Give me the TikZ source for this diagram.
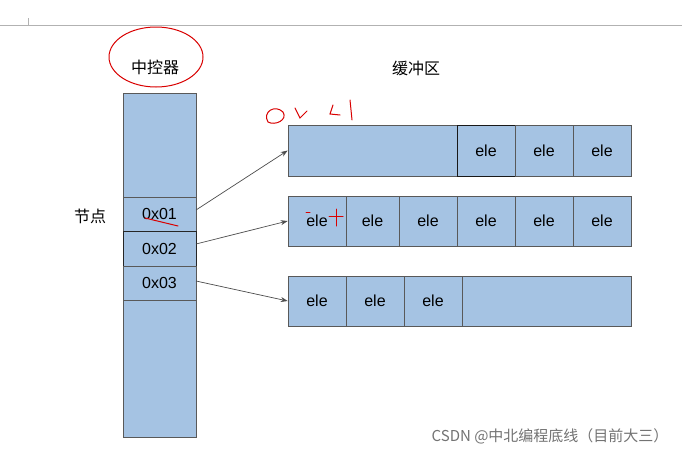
\documentclass[tikz,border=0pt]{standalone}
\usepackage{fontspec}
\usetikzlibrary{arrows.meta}
\setmainfont{Liberation Sans}
\newfontfamily\cjk{Noto Sans CJK SC}
\begin{document}
\begin{tikzpicture}[x=1pt,y=-1pt,
  cell/.style={draw=black!65,fill={rgb,255:red,165;green,195;blue,227},line width=0.6pt,inner sep=0pt,font=\fontsize{16}{18}\selectfont},
  arr/.style={-{Stealth[length=7pt,width=5pt]},draw=black!70,line width=0.7pt},
  red/.style={draw=red!85!black,line width=1pt,line cap=round}]
\useasboundingbox (0,0) rectangle (682,455);
\fill[white] (0,0) rectangle (682,455);
\draw[gray!60,line width=0.8pt] (0,25) -- (682,25);
\draw[gray!60] (28,18) -- (28,25);
% column
\node[cell,minimum width=73pt,minimum height=344pt] (col) at (159.5,265) {};
\node[cell,minimum width=73pt,minimum height=34pt] (n1) at (159.5,214) {0x01};
\node[cell,minimum width=73pt,minimum height=35pt,draw=black!85] (n2) at (159.5,248.5) {0x02};
\node[cell,minimum width=73pt,minimum height=34pt] (n3) at (159.5,283) {0x03};
\node[font=\cjk\fontsize{16}{18}\selectfont] (t1) at (155,67) {中控器};
\node[font=\cjk\fontsize{16}{18}\selectfont] (t2) at (90,216) {节点};
\node[font=\cjk\fontsize{16}{18}\selectfont] (t3) at (416,68) {缓冲区};
\draw[red] (156,57) ellipse (47 and 30);
% row1
\node[cell,minimum width=343pt,minimum height=51pt] (r1) at (459.5,150.5) {};
\node[cell,minimum width=58pt,minimum height=51pt,draw=black!90] (a1) at (486,150.5) {ele};
\node[cell,minimum width=58pt,minimum height=51pt] (a2) at (544,150.5) {ele};
\node[cell,minimum width=58pt,minimum height=51pt] (a3) at (602,150.5) {ele};
% row2
\node[cell,minimum width=58pt,minimum height=50pt] (b1) at (317,221) {ele};
\node[cell,minimum width=53pt,minimum height=50pt] (b2) at (372.5,221) {ele};
\node[cell,minimum width=58pt,minimum height=50pt] (b3) at (428,221) {ele};
\node[cell,minimum width=58pt,minimum height=50pt] (b4) at (486,221) {ele};
\node[cell,minimum width=58pt,minimum height=50pt] (b5) at (544,221) {ele};
\node[cell,minimum width=58pt,minimum height=50pt] (b6) at (602,221) {ele};
% row3
\node[cell,minimum width=343pt,minimum height=50pt] (r3) at (459.5,301) {};
\node[cell,minimum width=58pt,minimum height=50pt] (c1) at (317,301) {ele};
\node[cell,minimum width=58pt,minimum height=50pt] (c2) at (375,301) {ele};
\node[cell,minimum width=58pt,minimum height=50pt] (c3) at (433,301) {ele};
% arrows
\coordinate (s1) at (196,210); \coordinate (s2) at (196,244); \coordinate (s3) at (196,281);
\draw[arr] (s1) -- (r1.west);
\draw[arr] (s2) -- (b1.west);
\draw[arr] (s3) -- (r3.west);
% red scribbles
\draw[red] (268,122) .. controls (262,112) and (275,104) .. (283,112) .. controls (288,120) and (275,126) .. (268,122);
\draw[red] (295,108) -- (300,118) -- (307,111);
\draw[red] (333,105) -- (330,114) -- (340,115);
\draw[red] (350,100) -- (352,120);
\draw[red] (145,218) -- (178,226);
\draw[red] (306,212) -- (310,212); \draw[red] (329,216) -- (343,216); \draw[red] (336,209) -- (336,226);
\node[font=\cjk\fontsize{15}{17}\selectfont,text=black!55,anchor=east] (wm) at (672,436) {CSDN @中北编程底线（目前大三）};
\end{tikzpicture}
\end{document}
